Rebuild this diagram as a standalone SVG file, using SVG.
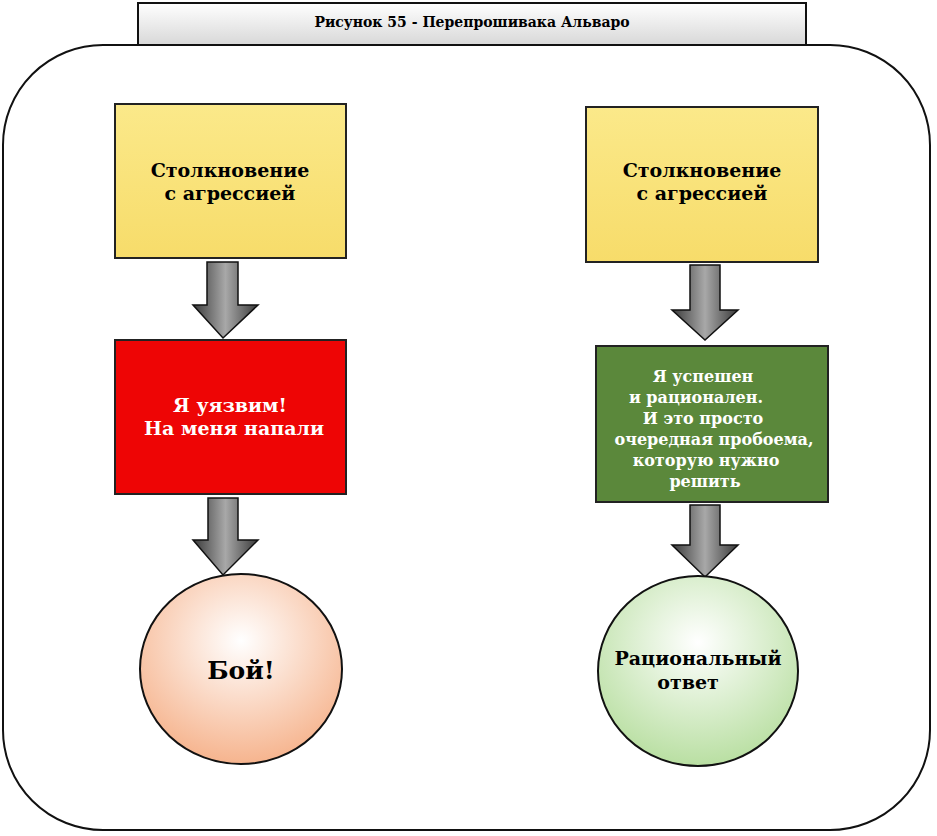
<svg xmlns="http://www.w3.org/2000/svg" width="937" height="836" viewBox="0 0 937 836">
<defs>
<linearGradient id="yel" x1="0" y1="0" x2="0" y2="1"><stop offset="0" stop-color="#fbe98a"/><stop offset="1" stop-color="#f7dc6a"/></linearGradient>
<linearGradient id="arr" x1="0" y1="0" x2="1" y2="0"><stop offset="0" stop-color="#3a3a3a"/><stop offset="0.5" stop-color="#a8a8a8"/><stop offset="1" stop-color="#3a3a3a"/></linearGradient>
<radialGradient id="peach" cx="0.5" cy="0.35" r="0.65"><stop offset="0" stop-color="#ffffff"/><stop offset="1" stop-color="#f6b48e"/></radialGradient>
<radialGradient id="mint" cx="0.5" cy="0.35" r="0.65"><stop offset="0" stop-color="#ffffff"/><stop offset="1" stop-color="#b9dfa2"/></radialGradient>
<linearGradient id="ttl" x1="0" y1="0" x2="0" y2="1"><stop offset="0" stop-color="#ffffff"/><stop offset="1" stop-color="#d8d8d8"/></linearGradient>
</defs>
<style>
text{font-family:"DejaVu Serif","Liberation Serif",serif;font-weight:bold;text-anchor:middle}
.box{stroke:#222;stroke-width:2}
.arrow{fill:url(#arr);stroke:#111;stroke-width:1.5}
</style>
<rect x="0" y="0" width="937" height="836" fill="#fff"/>
<g id="frame"><rect x="3" y="45" width="927" height="785" rx="100" fill="#fff" stroke="#111" stroke-width="2"/></g>
<g id="title"><rect x="138" y="3" width="668" height="42" fill="url(#ttl)" stroke="#111" stroke-width="2"/><text x="472" y="27" font-size="14">Рисунок 55 - Перепрошивака Альваро</text></g>
<g id="connectors">
<path class="arrow" d="M207,262 H238 V305 H258 L223,338 L193,305 H207 Z"/>
<path class="arrow" d="M208,498 H238 V540 H258 L223,575 L193,540 H208 Z"/>
<path class="arrow" d="M690,265 H720 V310 H738 L705,340 L672,310 H690 Z"/>
<path class="arrow" d="M690,505 H720 V545 H738 L705,577 L672,545 H690 Z"/>
</g>
<g id="n1"><rect class="box" x="115" y="104" width="231" height="154" fill="url(#yel)"/><text x="230" y="177" font-size="19">Столкновение</text><text x="230" y="200" font-size="19">с агрессией</text></g>
<g id="n2"><rect class="box" x="586" y="107" width="232" height="155" fill="url(#yel)"/><text x="702" y="177" font-size="19">Столкновение</text><text x="702" y="200" font-size="19">с агрессией</text></g>
<g id="n3"><rect class="box" x="115" y="340" width="231" height="154" fill="#ee0505"/><text x="230" y="412" font-size="19" fill="#fff">Я уязвим!</text><text x="234" y="435" font-size="19" fill="#fff">На меня напали</text></g>
<g id="n4"><rect class="box" x="596" y="346" width="232" height="156" fill="#5b883b"/>
<g font-size="16" fill="#fff"><text x="703" y="382">Я успешен</text><text x="696" y="403">и рационален.</text><text x="703" y="424">И это просто</text><text x="714" y="445">очередная пробоема,</text><text x="706" y="466">которую нужно</text><text x="705" y="487">решить</text></g></g>
<g id="n5"><ellipse cx="241" cy="669" rx="101" ry="95" fill="url(#peach)" stroke="#111" stroke-width="2"/><text x="241" y="679" font-size="25">Бой!</text></g>
<g id="n6"><ellipse cx="698" cy="671" rx="100" ry="95" fill="url(#mint)" stroke="#111" stroke-width="2"/><text x="698" y="665" font-size="19">Рациональный</text><text x="688" y="689" font-size="19">ответ</text></g>
</svg>
